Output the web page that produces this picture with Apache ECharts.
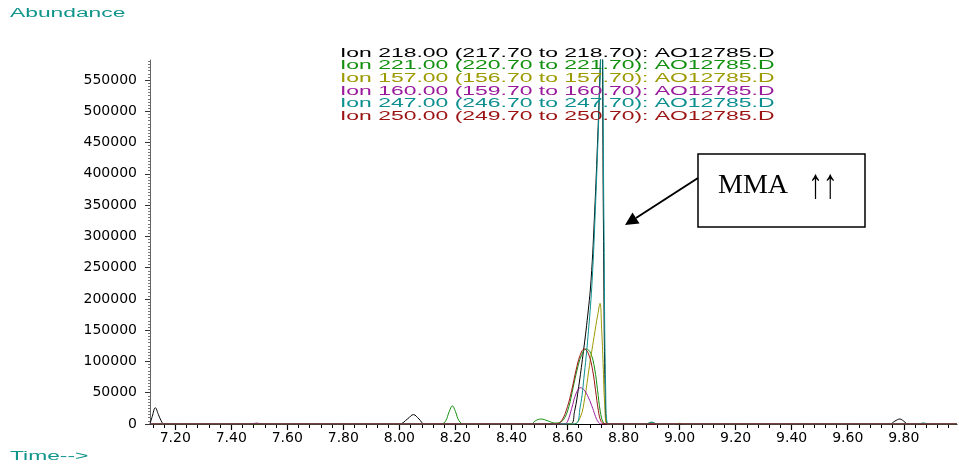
<!DOCTYPE html>
<html>
<head>
<meta charset="utf-8">
<script src="https://cdn.jsdelivr.net/npm/echarts@6.0.0/dist/echarts.min.js"></script>
<style>
  html, body { margin: 0; padding: 0; background: #fff; }
  #chart { width: 959px; height: 472px; }
</style>
</head>
<body>
<div id="chart"></div>
<script>
// ion chromatograms, [time (min), abundance]
const ionNames = [
  "Ion 218.00 (217.70 to 218.70): AO12785.D",
  "Ion 221.00 (220.70 to 221.70): AO12785.D",
  "Ion 157.00 (156.70 to 157.70): AO12785.D",
  "Ion 160.00 (159.70 to 160.70): AO12785.D",
  "Ion 247.00 (246.70 to 247.70): AO12785.D",
  "Ion 250.00 (249.70 to 250.70): AO12785.D"
]
const ionColors = ["#000000", "#13900f", "#9c9a00", "#9a1a9c", "#0d8f8f", "#9a1212"]

const ion218 = [
  [7.11, 0], [7.118, 12000], [7.129, 26000], [7.14, 15000], [7.15, 5000], [7.16, 0],
  [8.00, 0], [8.03, 8500], [8.05, 15000], [8.07, 8000], [8.09, 0],
  [8.61, 0], [8.625, 20000], [8.64, 60000], [8.655, 110000], [8.67, 165000], [8.684, 230000],
  [8.697, 340000], [8.708, 460000], [8.716, 560000], [8.722, 640000], [8.728, 330000], [8.734, 60000], [8.742, 0],
  [9.75, 0], [9.768, 4500], [9.786, 8000], [9.80, 4500], [9.815, 0], [9.99, 0]
]
const ion221 = [
  [7.11, 0], [8.15, 0], [8.165, 5000], [8.178, 20000], [8.189, 29000], [8.20, 20000], [8.213, 5000], [8.23, 0],
  [8.47, 0], [8.485, 5000], [8.505, 8000], [8.53, 5000], [8.555, 1500],
  [8.575, 3000], [8.59, 10000], [8.605, 28000], [8.62, 58000], [8.635, 88000], [8.65, 110000],
  [8.667, 120000], [8.683, 113000], [8.697, 88000], [8.707, 55000], [8.717, 20000], [8.727, 3000], [8.74, 0],
  [8.88, 0], [8.90, 2500], [8.92, 0], [9.99, 0]
]
const ion157 = [
  [7.11, 0], [8.62, 0], [8.645, 10000], [8.662, 43000], [8.676, 86000], [8.695, 140000], [8.708, 175000],
  [8.716, 193000], [8.722, 150000], [8.727, 97000], [8.733, 30000], [8.742, 0],
  [8.98, 0], [9.00, 1200], [9.02, 0], [9.99, 0]
]
const ion160 = [
  [7.11, 0], [7.47, 0], [7.49, 1500], [7.51, 0],
  [8.59, 0], [8.60, 4000], [8.615, 25000], [8.63, 48000], [8.646, 58000], [8.66, 54000], [8.675, 42000],
  [8.69, 25000], [8.70, 12000], [8.71, 3000], [8.72, 0], [9.99, 0]
]
const ion247 = [
  [7.11, 0], [8.625, 0], [8.645, 27000], [8.66, 80000], [8.675, 150000], [8.688, 230000], [8.70, 350000],
  [8.71, 470000], [8.717, 565000], [8.723, 640000], [8.73, 320000], [8.736, 60000], [8.745, 0],
  [8.88, 0], [8.90, 3000], [8.92, 0],
  [9.85, 0], [9.87, 1800], [9.89, 0], [9.99, 0]
]
const ion250 = [
  [7.11, 0], [8.56, 0], [8.58, 6000], [8.60, 28000], [8.615, 54000], [8.63, 85000], [8.645, 110000],
  [8.66, 120000], [8.675, 112000], [8.69, 85000], [8.70, 54000], [8.71, 22000], [8.72, 4000], [8.735, 0],
  [9.99, 0]
]
const ionData = [ion218, ion221, ion157, ion160, ion247, ion250]

const xTickLabels = [7.2, 7.4, 7.6, 7.8, 8.0, 8.2, 8.4, 8.6, 8.8, 9.0, 9.2, 9.4, 9.6, 9.8]
const yTickLabels = [0, 50000, 100000, 150000, 200000, 250000, 300000, 350000, 400000, 450000, 500000, 550000]

// minor ticks: every 0.04 min on x, every 5000 on y
const xMinorTicks = []
for (let i = 0; i <= 71; i++) xMinorTicks.push(+(7.12 + i * 0.04).toFixed(2))
const yMinorTicks = []
for (let i = 0; i <= 116; i++) yMinorTicks.push(i * 5000)

const X_MIN = 7.11
const X_MAX = 9.99
const Y_MAX = 582000
const labelFont = { color: "#000", fontFamily: "DejaVu Sans", fontSize: 14 }
const sans = "\"Liberation Sans\", Arial, sans-serif"

const chart = echarts.init(document.getElementById("chart"))

chart.setOption({
  animation: false,
  grid: { left: 150, right: 2, top: 60, bottom: 48 },
  xAxis: [
    {
      type: "value",
      min: X_MIN,
      max: X_MAX,
      axisLine: { lineStyle: { color: "#000", width: 1 } },
      axisTick: { customValues: xMinorTicks, length: 4, lineStyle: { color: "#000" } },
      axisLabel: {
        ...labelFont,
        margin: 7,
        customValues: xTickLabels,
        formatter: (v) => v.toFixed(2)
      },
      splitLine: { show: false }
    },
    {
      type: "value",
      position: "bottom",
      min: X_MIN,
      max: X_MAX,
      axisLine: { show: false },
      axisTick: { customValues: xTickLabels, length: 6, lineStyle: { color: "#000", width: 1.2 } },
      axisLabel: { show: false },
      splitLine: { show: false }
    }
  ],
  yAxis: [
    {
      type: "value",
      min: 0,
      max: Y_MAX,
      axisLine: { show: true, lineStyle: { color: "#666" } },
      axisTick: { show: true, customValues: yMinorTicks, length: 2, lineStyle: { color: "#777" } },
      axisLabel: { ...labelFont, margin: 13, customValues: yTickLabels, formatter: (v) => String(v) },
      splitLine: { show: false }
    },
    {
      type: "value",
      position: "left",
      min: 0,
      max: Y_MAX,
      axisLine: { show: false },
      axisTick: { show: true, customValues: yTickLabels, length: 5, lineStyle: { color: "#333" } },
      axisLabel: { show: false },
      splitLine: { show: false }
    }
  ],
  series: ionData.map((d, i) => ({
    name: ionNames[i],
    type: "line",
    data: d,
    xAxisIndex: 0,
    yAxisIndex: 0,
    smooth: 0.4,
    showSymbol: false,
    clip: true,
    lineStyle: { color: ionColors[i], width: 1 }
  })),
  graphic: [
    {
      type: "text", x: 10, y: 14, scaleX: 1.9,
      style: { text: "Abundance", fill: "#11958a", font: "12px " + sans, verticalAlign: "middle" }
    },
    {
      type: "text", x: 10, y: 457, scaleX: 1.9,
      style: { text: "Time-->", fill: "#11958a", font: "12px " + sans, verticalAlign: "middle" }
    },
    ...ionNames.map((name, i) => ({
      type: "text", x: 340, y: 53.5 + i * 12.6, scaleX: 1.91, z: 10,
      style: { text: name, fill: ionColors[i], font: "12px " + sans, verticalAlign: "middle" }
    })),
    // annotation box + arrow
    {
      type: "rect", z: 10,
      shape: { x: 698, y: 154, width: 167, height: 73 },
      style: { fill: "#fff", stroke: "#000", lineWidth: 1.5 }
    },
    {
      type: "text", x: 718, y: 186, z: 11,
      style: {
        text: "MMA", fill: "#000", align: "left", verticalAlign: "middle",
        font: "28px \"Liberation Serif\", serif"
      }
    },
    {
      type: "text", x: 808, y: 187, z: 11, scaleX: 0.7,
      style: {
        text: "↑↑", fill: "#000", align: "left", verticalAlign: "middle",
        font: "42px \"Liberation Serif\", serif"
      }
    },
    {
      type: "line", z: 10,
      shape: { x1: 698, y1: 178, x2: 636, y2: 218 },
      style: { stroke: "#000", lineWidth: 2 }
    },
    {
      type: "polygon", z: 10,
      shape: { points: [[625, 225], [639.5, 223.5], [632.5, 212.5]] },
      style: { fill: "#000" }
    }
  ]
})
</script>
</body>
</html>
